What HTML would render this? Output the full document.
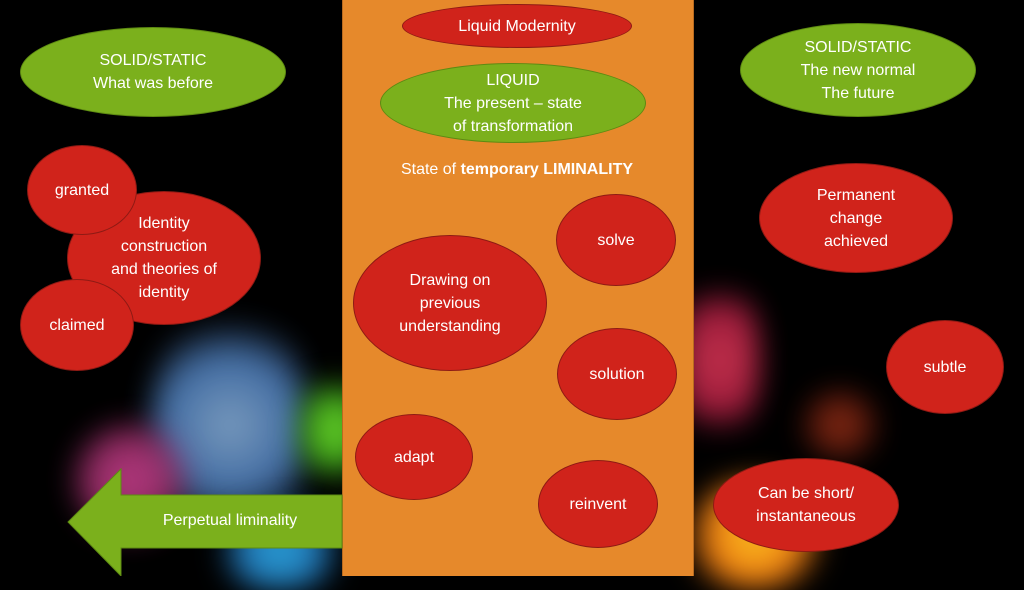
<!DOCTYPE html>
<html><head><meta charset="utf-8"><style>
body{margin:0;width:1024px;height:576px;background:#000;overflow:hidden;position:relative;font-family:"Liberation Sans","DejaVu Sans",sans-serif}
.b{position:absolute;border-radius:50%;filter:blur(14px)}
.e{position:absolute;border-radius:50%;display:flex;align-items:center;justify-content:center;text-align:center;color:#fff;font-size:16px;line-height:23px;box-sizing:border-box}
.r{background:#d0231b;border:1.5px solid #8e1a14}
.g{background:#7bb01c;border:1.5px solid #5d8a12}
</style></head><body>
<div class="b" style="left:150px;top:300px;width:160px;height:250px;background:radial-gradient(circle,#8fb6df 0%,#4d7fbf 45%,rgba(0,0,0,0) 72%);opacity:.85"></div>
<div class="b" style="left:70px;top:420px;width:120px;height:120px;background:radial-gradient(circle,#d9459a 0%,#a2306d 50%,rgba(0,0,0,0) 75%);opacity:.85"></div>
<div class="b" style="left:300px;top:370px;width:70px;height:120px;background:radial-gradient(circle,#6ad42a 0%,#3a9a18 50%,rgba(0,0,0,0) 75%)"></div>
<div class="b" style="left:210px;top:510px;width:140px;height:80px;background:radial-gradient(circle,#2aa3d8 0%,#1f6fae 50%,rgba(0,0,0,0) 75%)"></div>
<div class="b" style="left:680px;top:270px;width:80px;height:180px;background:radial-gradient(circle,#e43a5a 0%,#b82045 50%,rgba(0,0,0,0) 75%);opacity:.85"></div>
<div class="b" style="left:680px;top:480px;width:150px;height:110px;background:radial-gradient(circle,#f7c31f 0%,#f07a12 50%,rgba(0,0,0,0) 75%)"></div>
<div class="b" style="left:800px;top:390px;width:80px;height:70px;background:radial-gradient(circle,#c2401e 0%,#7a2010 55%,rgba(0,0,0,0) 75%);opacity:.7"></div>
<div style="position:absolute;left:342px;top:0;width:350px;height:576px;background:#e6892b;border-left:1px solid #b86a1f;border-right:1px solid #b86a1f"></div>
<svg style="position:absolute;left:0;top:0" width="1024" height="576"><polygon points="68,522 121,469 121,495 342,495 342,548 121,548 121,576" fill="#7bb01c" stroke="#5d8a12" stroke-width="1"/></svg>
<div style="position:absolute;left:130px;top:512px;width:200px;color:#fff;font-size:16px;text-align:center">Perpetual liminality</div>
<div class="e r" style="left:402px;top:4px;width:230px;height:44px">Liquid Modernity</div>
<div class="e g" style="left:380px;top:63px;width:266px;height:80px">LIQUID<br>The present – state<br>of transformation</div>
<div style="position:absolute;left:342px;top:161px;width:350px;text-align:center;color:#fff;font-size:16px">State of <b>temporary LIMINALITY</b></div>
<div class="e g" style="left:20px;top:27px;width:266px;height:90px">SOLID/STATIC<br>What was before</div>
<div class="e g" style="left:740px;top:23px;width:236px;height:94px">SOLID/STATIC<br>The new normal<br>The future</div>
<div class="e r" style="left:67px;top:191px;width:194px;height:134px">Identity<br>construction<br>and theories of<br>identity</div>
<div class="e r" style="left:27px;top:145px;width:110px;height:90px">granted</div>
<div class="e r" style="left:20px;top:279px;width:114px;height:92px">claimed</div>
<div class="e r" style="left:759px;top:163px;width:194px;height:110px">Permanent<br>change<br>achieved</div>
<div class="e r" style="left:886px;top:320px;width:118px;height:94px">subtle</div>
<div class="e r" style="left:713px;top:458px;width:186px;height:94px">Can be short/<br>instantaneous</div>
<div class="e r" style="left:556px;top:194px;width:120px;height:92px">solve</div>
<div class="e r" style="left:353px;top:235px;width:194px;height:136px">Drawing on<br>previous<br>understanding</div>
<div class="e r" style="left:557px;top:328px;width:120px;height:92px">solution</div>
<div class="e r" style="left:355px;top:414px;width:118px;height:86px">adapt</div>
<div class="e r" style="left:538px;top:460px;width:120px;height:88px">reinvent</div>
</body></html>
